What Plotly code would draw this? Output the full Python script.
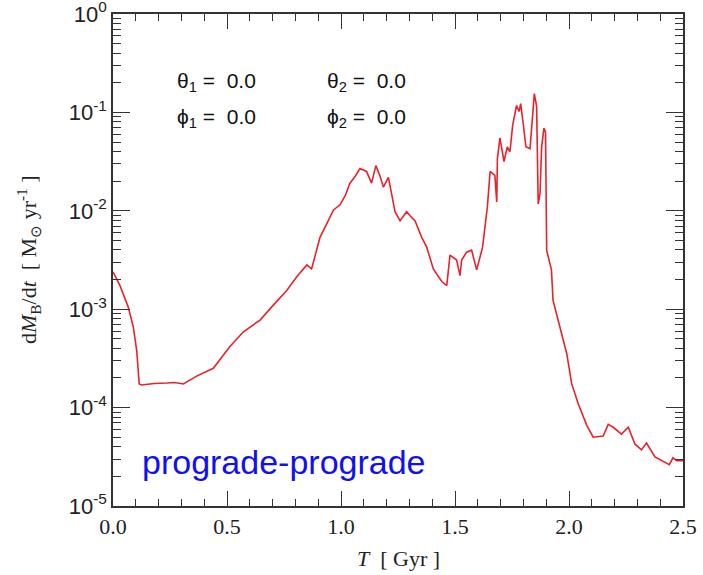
import plotly.graph_objects as go

# Time [Gyr]
t_gyr = [0.000, 0.030, 0.067, 0.089, 0.104, 0.115, 0.126, 0.180, 0.236, 0.270, 0.309, 0.367, 0.440,
         0.513, 0.572, 0.645, 0.703, 0.762, 0.806, 0.850, 0.871, 0.908, 0.940, 0.967,
         0.996, 1.020, 1.039, 1.060, 1.083, 1.112, 1.134, 1.153, 1.170, 1.186, 1.208,
         1.237, 1.259, 1.288, 1.303, 1.325, 1.354, 1.376, 1.405, 1.442, 1.464, 1.478,
         1.507, 1.522, 1.529, 1.551, 1.573, 1.595, 1.621, 1.642, 1.654, 1.675, 1.683,
         1.686, 1.697, 1.715, 1.729, 1.741, 1.753, 1.770, 1.781, 1.788, 1.799, 1.811,
         1.829, 1.836, 1.848, 1.858, 1.865, 1.873, 1.880, 1.890, 1.897, 1.902, 1.923,
         1.930, 1.965, 1.990, 2.012, 2.040, 2.078, 2.106, 2.150, 2.172, 2.194, 2.230,
         2.260, 2.289, 2.318, 2.340, 2.377, 2.440, 2.456, 2.473, 2.500]

# Accretion rate dM_B/dt [Msun/yr]
dmdt = [2.40e-3, 1.75e-3, 1.05e-3, 6.6e-4, 3.8e-4, 1.74e-4, 1.70e-4, 1.76e-4, 1.78e-4, 1.80e-4, 1.74e-4, 2.09e-4, 2.51e-4,
        4.17e-4, 5.89e-4, 7.76e-4, 1.10e-3, 1.55e-3, 2.14e-3, 2.82e-3, 2.57e-3, 5.37e-3, 7.6e-3, 1.02e-2,
        1.15e-2, 1.45e-2, 1.91e-2, 2.2e-2, 2.69e-2, 2.51e-2, 1.91e-2, 2.88e-2, 2.3e-2, 1.74e-2, 2.19e-2,
        9.8e-3, 7.9e-3, 9.8e-3, 8.9e-3, 7.9e-3, 5.37e-3, 4.27e-3, 2.57e-3, 1.91e-3, 1.74e-3, 3.55e-3,
        3.16e-3, 2.19e-3, 3.16e-3, 3.80e-3, 3.98e-3, 2.51e-3, 4.27e-3, 1.10e-2, 2.51e-2, 2.29e-2, 1.23e-2,
        3.39e-2, 5.50e-2, 3.16e-2, 4.47e-2, 3.98e-2, 7.41e-2, 0.1175, 0.102, 0.123, 7.76e-2, 4.47e-2,
        4.27e-2, 6.61e-2, 0.155, 0.115, 1.17e-2, 1.51e-2, 4.47e-2, 6.92e-2, 6.31e-2, 3.98e-3, 2.51e-3,
        1.23e-3, 6.17e-4, 3.55e-4, 1.74e-4, 1.10e-4, 6.6e-5, 5.0e-5, 5.13e-5, 6.76e-5, 6.31e-5, 5.37e-5,
        6.31e-5, 4.27e-5, 3.72e-5, 4.37e-5, 3.16e-5, 2.63e-5, 3.09e-5, 2.88e-5, 2.88e-5]

x_tickvals = [0.0, 0.5, 1.0, 1.5, 2.0, 2.5]
x_ticktext = ["0.0", "0.5", "1.0", "1.5", "2.0", "2.5"]
y_tickvals = [1e-5, 1e-4, 1e-3, 1e-2, 1e-1, 1e0]
y_ticktext = ["10<sup>-5</sup>", "10<sup>-4</sup>", "10<sup>-3</sup>",
              "10<sup>-2</sup>", "10<sup>-1</sup>", "10<sup>0</sup>"]

angle_labels = [("θ<sub>1</sub> =  0.0", 0.109, 0.862), ("θ<sub>2</sub> =  0.0", 0.372, 0.862),
                ("ϕ<sub>1</sub> =  0.0", 0.109, 0.789), ("ϕ<sub>2</sub> =  0.0", 0.372, 0.789)]

# minor tick positions (axis decoration)
x_minor = [i / 10 for i in range(26) if i % 5]
y_minor = [k * 10.0 ** n for n in range(-5, 0) for k in range(2, 10)]

serif = "Liberation Serif"
sans = "Liberation Sans"
axc = "#333333"

fig = go.Figure()
fig.add_trace(go.Scatter(x=t_gyr, y=dmdt, mode="lines",
                         line=dict(color="#e8222a", width=1.6), showlegend=False))

fig.update_layout(
    width=703, height=575,
    margin=dict(l=113, r=20, t=14, b=69, autoexpand=False),
    paper_bgcolor="white", plot_bgcolor="white",
    xaxis=dict(range=[0, 2.5], tickmode="array", tickvals=x_tickvals, ticktext=x_ticktext,
               automargin=False,
               ticks="inside", ticklen=15, tickwidth=1, tickcolor=axc,
               showline=True, linecolor=axc, linewidth=1.5, mirror="ticks",
               showgrid=False, zeroline=False,
               tickfont=dict(family=serif, size=22, color="#222"),
               minor=dict(tickmode="array", tickvals=x_minor, ticks="inside", ticklen=7,
                          tickwidth=1, tickcolor=axc, showgrid=False)),
    yaxis=dict(type="log", range=[-5, 0], tickmode="array", tickvals=y_tickvals, ticktext=y_ticktext,
               automargin=False, ticklabeloverflow="allow",
               ticks="inside", ticklen=17, tickwidth=1, tickcolor=axc,
               showline=True, linecolor=axc, linewidth=1.5, mirror="ticks",
               showgrid=False, zeroline=False,
               tickfont=dict(family=sans, size=22, color="#222"),
               minor=dict(tickmode="array", tickvals=y_minor, ticks="inside", ticklen=8,
                          tickwidth=1, tickcolor=axc, showgrid=False)),
)

for txt, x, y in angle_labels:
    fig.add_annotation(text=txt, xref="paper", yref="paper", x=x, y=y,
                       xanchor="left", yanchor="middle", showarrow=False,
                       font=dict(family=sans, size=21, color="#111"))

fig.add_annotation(text="prograde-prograde", xref="paper", yref="paper", x=0.047, y=0.089,
                   xanchor="left", yanchor="middle", showarrow=False,
                   font=dict(family=sans, size=34, color="#1010f0"))

fig.add_annotation(text="<i>T</i>  [ Gyr ]", xref="paper", yref="paper", x=0.5, y=-0.106,
                   xanchor="center", yanchor="middle", showarrow=False,
                   font=dict(family=serif, size=22, color="#222"))

fig.add_annotation(text="d<i>M</i><sub>B</sub>/d<i>t</i>  [ M<sub>⊙</sub> yr<sup>-1</sup> ]",
                   xref="paper", yref="paper", x=-0.149, y=0.5, textangle=-90,
                   xanchor="center", yanchor="middle", showarrow=False,
                   font=dict(family=serif, size=22, color="#222"))

fig.write_html("out.html")
